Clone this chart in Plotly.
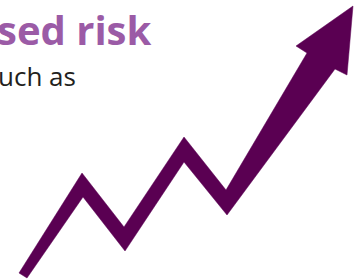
import plotly.graph_objects as go

# Arrow outline (zigzag rising arrow), in picture units (x right, y down)
arrow_x = [19, 82, 124, 184, 226, 307, 296, 353, 347, 335, 227, 184, 125, 83, 27, 19]
arrow_y = [273, 173, 227, 137, 190, 53, 46, 6, 75, 69, 215, 162, 251, 197, 278, 273]

title_text = "sed risk"
sub_text = "uch as"

fig = go.Figure()
fig.add_trace(go.Scatter(
    x=arrow_x, y=arrow_y, mode="lines", fill="toself",
    fillcolor="#5A0052", line=dict(color="#5A0052", width=0.5),
    hoverinfo="skip", showlegend=False,
))

fig.add_annotation(x=153, y=59, xref="x", yref="y", text=f"<b>{title_text}</b>",
                   showarrow=False, xanchor="right", yanchor="bottom",
                   font=dict(family="Open Sans", size=40, color="#9B5BA6"))
fig.add_annotation(x=78, y=96, xref="x", yref="y", text=sub_text,
                   showarrow=False, xanchor="right", yanchor="bottom",
                   font=dict(family="Open Sans", size=26, color="#231F20"))

fig.update_layout(
    width=360, height=279, margin=dict(l=0, r=0, t=0, b=0),
    paper_bgcolor="white", plot_bgcolor="white",
    xaxis=dict(range=[0, 360], visible=False, fixedrange=True),
    yaxis=dict(range=[279, 0], visible=False, fixedrange=True),
)
fig.write_html("out.html", config={"displayModeBar": False, "staticPlot": True},
               post_script="document.body.style.margin='0';")
